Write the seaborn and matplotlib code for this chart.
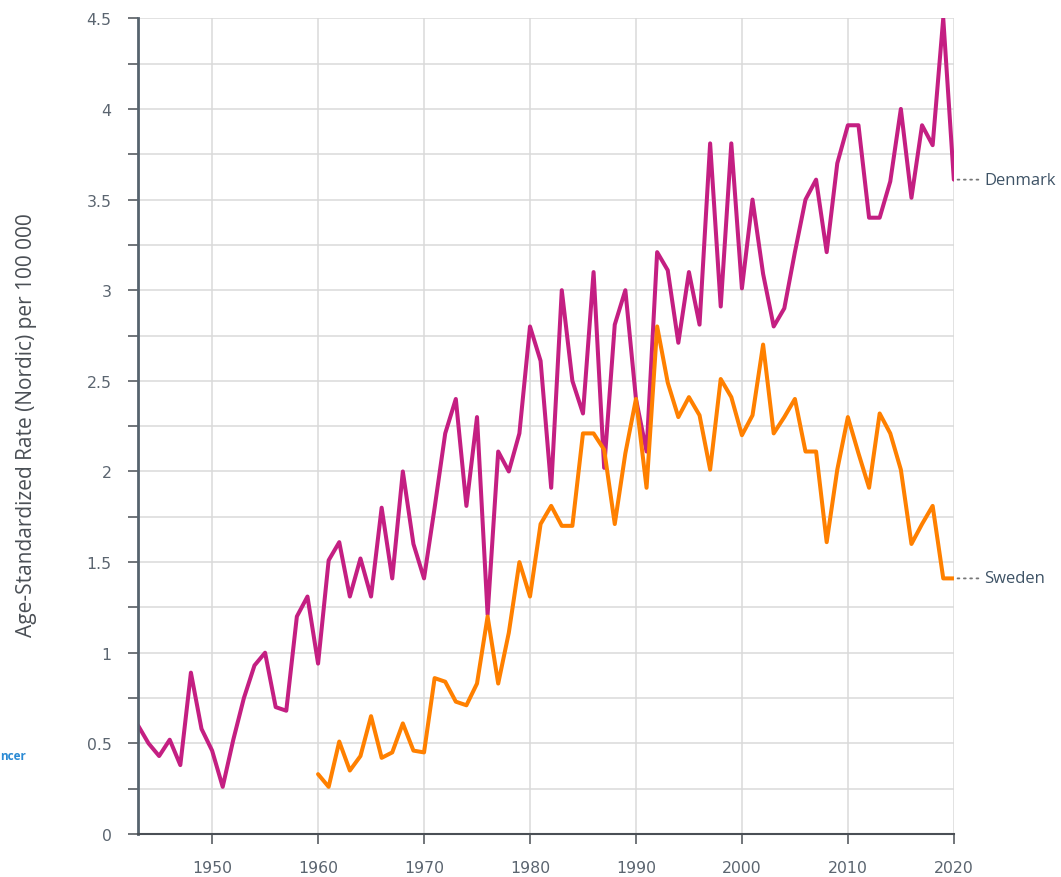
import numpy as np
import pandas as pd
import matplotlib
matplotlib.use("Agg")
import matplotlib.pyplot as plt
import seaborn as sns
from matplotlib.ticker import MultipleLocator


# ============================================================
# DATA
# ============================================================
denmark_years = list(range(1943, 2021))
denmark_rate = [
    0.60, 0.50, 0.43, 0.52, 0.38, 0.89, 0.58, 0.46, 0.26, 0.52,  # 1943-1952
    0.75, 0.93, 1.00, 0.70, 0.68, 1.20, 1.31, 0.94, 1.51, 1.61,  # 1953-1962
    1.31, 1.52, 1.31, 1.80, 1.41, 2.00, 1.60, 1.41, 1.80, 2.21,  # 1963-1972
    2.40, 1.81, 2.30, 1.21, 2.11, 2.00, 2.21, 2.80, 2.61, 1.91,  # 1973-1982
    3.00, 2.50, 2.32, 3.10, 2.02, 2.81, 3.00, 2.40, 2.11, 3.21,  # 1983-1992
    3.11, 2.71, 3.10, 2.81, 3.81, 2.91, 3.81, 3.01, 3.50, 3.09,  # 1993-2002
    2.80, 2.90, 3.21, 3.50, 3.61, 3.21, 3.70, 3.91, 3.91, 3.40,  # 2003-2012
    3.40, 3.60, 4.00, 3.51, 3.91, 3.80, 4.50, 3.61,              # 2013-2020
]

sweden_years = list(range(1960, 2021))
sweden_rate = [
    0.33, 0.26, 0.51, 0.35, 0.43, 0.65, 0.42, 0.45, 0.61, 0.46,  # 1960-1969
    0.45, 0.86, 0.84, 0.73, 0.71, 0.83, 1.20, 0.83, 1.11, 1.50,  # 1970-1979
    1.31, 1.71, 1.81, 1.70, 1.70, 2.21, 2.21, 2.12, 1.71, 2.10,  # 1980-1989
    2.40, 1.91, 2.80, 2.49, 2.30, 2.41, 2.31, 2.01, 2.51, 2.41,  # 1990-1999
    2.20, 2.31, 2.70, 2.21, 2.30, 2.40, 2.11, 2.11, 1.61, 2.01,  # 2000-2009
    2.30, 2.10, 1.91, 2.32, 2.21, 2.01, 1.60, 1.71, 1.81, 1.41,  # 2010-2019
    1.41,                                                        # 2020
]

countries = ["Denmark", "Sweden"]
colors = {"Denmark": "#c41f82", "Sweden": "#ff8000"}

y_ticks = [0, 0.5, 1, 1.5, 2, 2.5, 3, 3.5, 4, 4.5]
y_ticklabels = ["0", "0.5", "1", "1.5", "2", "2.5", "3", "3.5", "4", "4.5"]
y_label = "Age-Standardized Rate (Nordic) per 100 000"

df = pd.concat([
    pd.DataFrame({"year": denmark_years, "rate": denmark_rate, "country": "Denmark"}),
    pd.DataFrame({"year": sweden_years, "rate": sweden_rate, "country": "Sweden"}),
], ignore_index=True)


# ============================================================
# PLOT
# ============================================================
sns.set_style("white")
plt.rcParams["font.family"] = ["Open Sans", "DejaVu Sans"]

fig = plt.figure(figsize=(10.61, 8.78), dpi=100)
ax = fig.add_axes([0.130, 0.049, 0.769, 0.929])

sns.lineplot(
    data=df, x="year", y="rate", hue="country",
    palette=colors, hue_order=countries,
    linewidth=2.9, legend=False, ax=ax,
)

ax.set_xlim(1943, 2020)
ax.set_ylim(0, 4.5)

ax.xaxis.set_major_locator(MultipleLocator(10))
ax.set_yticks(y_ticks)
ax.set_yticklabels(y_ticklabels)
ax.yaxis.set_minor_locator(MultipleLocator(0.25))

ax.grid(True, which="both", axis="y", color="#dadada", linewidth=1.1)
ax.grid(True, which="major", axis="x", color="#dadada", linewidth=1.1)
ax.set_axisbelow(True)

for side in ["top", "right"]:
    ax.spines[side].set_visible(False)
ax.spines["left"].set_color("#56636e")
ax.spines["left"].set_linewidth(2.0)
ax.spines["bottom"].set_color("#4a4f55")
ax.spines["bottom"].set_linewidth(1.5)

ax.tick_params(axis="both", which="both", direction="out", length=7,
               width=1.1, color="#4a4f55", labelcolor="#5b6570",
               left=True, bottom=True, pad=12)
for lab in ax.get_xticklabels() + ax.get_yticklabels():
    lab.set_family("DejaVu Sans")
    lab.set_fontsize(11.3)

ax.set_xlabel("")
ax.set_ylabel("")
fig.text(0.025, 0.516, y_label, rotation=90, ha="center", va="center",
         fontsize=15, color="#4a4f55")

# end labels with dotted leaders
ends = {"Denmark": denmark_rate[-1], "Sweden": sweden_rate[-1]}
for name in countries:
    ax.annotate(
        name, xy=(2020, ends[name]), xytext=(22, 0),
        textcoords="offset points", ha="left", va="center",
        fontsize=12, color="#3e5366", annotation_clip=False,
        arrowprops=dict(arrowstyle="-", linestyle=(0, (1, 2.5)),
                        color="#777777", lw=1.3, shrinkA=2, shrinkB=0),
    )

# cropped link text at the left edge
fig.text(0.0, 0.138, "ncer", fontsize=8.5, color="#2a8ad4",
         ha="left", va="center", fontweight="bold")

fig.savefig("out.png", dpi=100)
